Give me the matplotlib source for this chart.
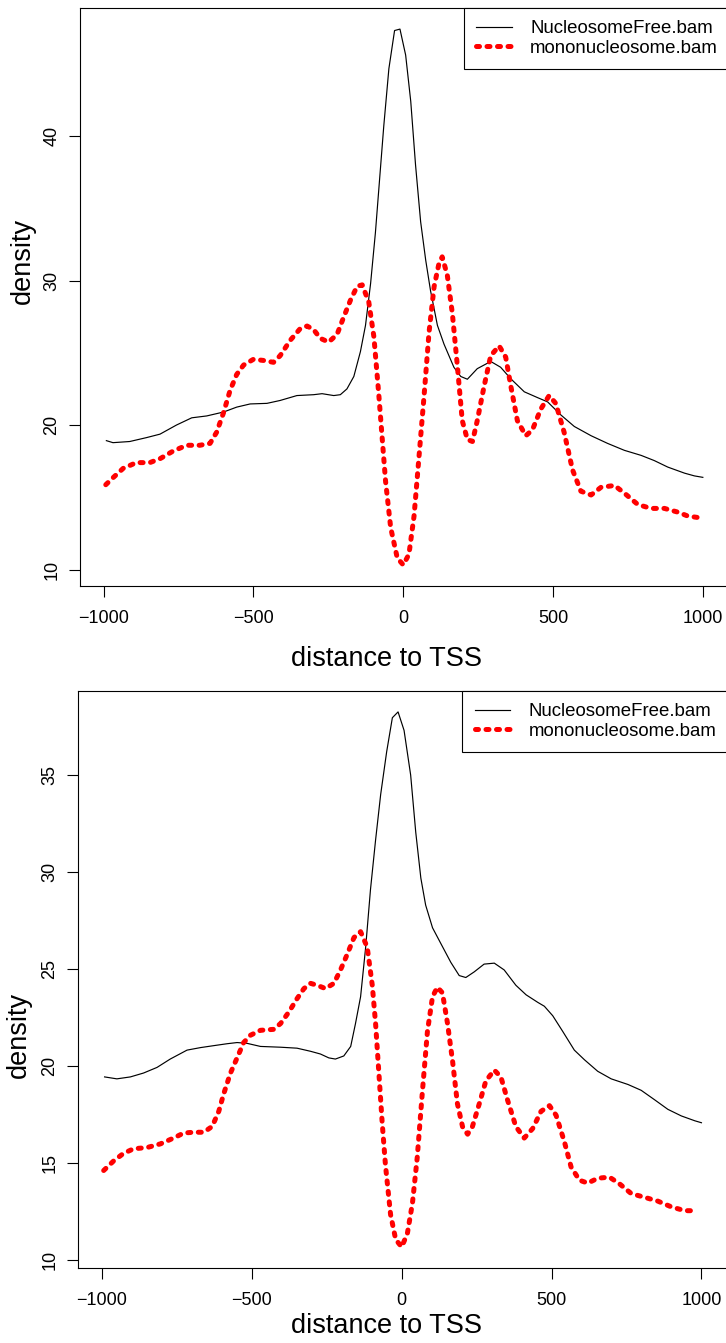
import matplotlib

matplotlib.use("Agg")
import matplotlib.pyplot as plt

# top panel: NucleosomeFree / mononucleosome densities around TSS
nf1_x = [-991, -969, -913, -857, -812, -757, -706, -656, -600, -556, -511, -455, -411, -355, -299,
         -271, -232, -210, -188, -165, -143, -126, -109, -93, -76, -65, -48, -29, -11, 8, 25, 41,
         58, 75, 91, 114, 136, 169, 192, 214, 247, 292, 325, 359, 404, 448, 482, 526, 571, 627,
         682, 738, 794, 838, 883, 939, 972, 1000]
nf1_y = [18.92, 18.78, 18.86, 19.13, 19.37, 20.0, 20.5, 20.63, 20.9, 21.24, 21.46, 21.5, 21.7,
         22.04, 22.1, 22.17, 22.04, 22.1, 22.5, 23.36, 25.08, 26.9, 29.8, 33.3, 37.8, 40.7, 44.66,
         47.3, 47.4, 45.6, 42.4, 38.0, 34.07, 31.4, 29.3, 26.9, 25.6, 24.0, 23.36, 23.17, 23.9,
         24.4, 24.0, 23.2, 22.3, 21.9, 21.6, 20.7, 19.9, 19.26, 18.73, 18.25, 17.9, 17.54, 17.09,
         16.67, 16.48, 16.38]
mono1_x = [-993, -969, -935, -891, -846, -812, -768, -723, -679, -645, -623, -600, -578, -556,
           -533, -500, -467, -433, -411, -377, -344, -321, -299, -277, -249, -221, -199, -176,
           -154, -137, -115, -98, -82, -70, -59, -42, -20, 0, 19, 36, 52, 69, 86, 103, 119, 130,
           147, 164, 181, 197, 214, 231, 247, 270, 292, 320, 342, 359, 381, 409, 431, 459, 487,
           509, 537, 565, 593, 627, 660, 705, 738, 783, 827, 872, 917, 950, 994]
mono1_y = [15.87, 16.35, 17.0, 17.4, 17.4, 17.67, 18.2, 18.6, 18.6, 18.73, 19.5, 20.85, 22.4,
           23.5, 24.15, 24.55, 24.47, 24.34, 24.8, 25.87, 26.67, 26.85, 26.6, 26.0, 25.74, 26.27,
           27.46, 28.65, 29.6, 29.7, 28.5, 26.1, 22.2, 19.0, 16.1, 12.9, 10.8, 10.32, 11.06, 13.7,
           17.67, 21.9, 26.4, 29.58, 31.16, 31.64, 30.37, 27.7, 24.0, 20.3, 19.0, 18.86, 20.3,
           22.7, 24.8, 25.48, 24.7, 22.7, 20.3, 19.26, 19.66, 21.1, 22.04, 21.5, 19.5, 16.9,
           15.42, 15.16, 15.69, 15.82, 15.29, 14.5, 14.23, 14.23, 13.97, 13.7, 13.57]

# bottom panel
nf2_x = [-991, -950, -905, -861, -816, -772, -716, -671, -627, -582, -549, -516, -471, -404,
         -349, -304, -271, -243, -221, -193, -170, -154, -137, -120, -104, -87, -70, -50, -31,
         -12, 8, 30, 47, 64, 80, 103, 130, 164, 192, 214, 242, 275, 309, 342, 381, 415, 454, 476,
         504, 537, 576, 610, 654, 699, 755, 799, 844, 888, 933, 978, 1000]
nf2_y = [19.45, 19.35, 19.45, 19.65, 19.94, 20.37, 20.83, 20.96, 21.06, 21.16, 21.22, 21.18,
         21.02, 20.98, 20.93, 20.77, 20.63, 20.43, 20.37, 20.53, 21.02, 22.2, 23.58, 26.14, 29.1,
         31.65, 34.0, 36.2, 37.95, 38.25, 37.3, 35.0, 32.05, 29.69, 28.3, 27.13, 26.34, 25.35,
         24.67, 24.57, 24.86, 25.26, 25.31, 24.96, 24.17, 23.68, 23.29, 23.09, 22.6, 21.8, 20.83,
         20.33, 19.74, 19.35, 19.06, 18.76, 18.27, 17.78, 17.44, 17.19, 17.09]
mono2_x = [-994, -961, -928, -894, -850, -805, -761, -727, -694, -660, -632, -610, -594, -571,
           -549, -527, -504, -471, -427, -404, -376, -349, -326, -304, -282, -254, -226, -204,
           -182, -159, -137, -115, -98, -87, -76, -65, -54, -37, -20, 0, 19, 36, 52, 69, 86, 103,
           119, 136, 153, 170, 186, 203, 220, 236, 259, 281, 309, 331, 353, 381, 409, 437, 465,
           493, 515, 543, 565, 593, 621, 654, 693, 727, 766, 810, 855, 899, 944, 988]
mono2_y = [14.63, 15.12, 15.51, 15.75, 15.81, 16.0, 16.3, 16.56, 16.6, 16.6, 16.9, 17.68, 18.56,
           19.65, 20.43, 21.22, 21.6, 21.85, 21.9, 22.2, 22.8, 23.48, 24.0, 24.27, 24.17, 24.0,
           24.27, 24.96, 25.75, 26.63, 26.93, 26.14, 24.17, 22.2, 19.65, 17.1, 14.9, 12.36, 11.08,
           10.69, 11.38, 12.95, 15.31, 18.66, 21.8, 23.58, 24.07, 23.78, 22.2, 20.24, 18.07,
           16.89, 16.5, 16.89, 18.07, 19.25, 19.8, 19.45, 18.27, 16.89, 16.3, 16.79, 17.68, 17.97,
           17.48, 16.1, 14.82, 14.13, 13.98, 14.23, 14.29, 13.94, 13.44, 13.25, 13.05, 12.76,
           12.56, 12.56]

x_ticks = [-1000, -500, 0, 500, 1000]
y_ticks1 = [10, 20, 30, 40]
y_ticks2 = [10, 15, 20, 25, 30, 35]
labels = ["NucleosomeFree.bam", "mononucleosome.bam"]

plt.rcParams.update({
    "font.family": ["Liberation Sans", "DejaVu Sans"],
    "axes.linewidth": 0.8,
})

fig = plt.figure(figsize=(7.26, 13.43), dpi=100)

panels = [
    # axes rect, data, yticks, ylabel coords, xlabel coords
    ([0.1098, 0.5634, 0.8913, 0.4309], nf1_x, nf1_y, mono1_x, mono1_y, y_ticks1,
     (-0.0876, 0.562), (0.4734, -0.1256)),
    ([0.1073, 0.05555, 0.8919, 0.4303], nf2_x, nf2_y, mono2_x, mono2_y, y_ticks2,
     (-0.0917, 0.404), (0.4768, -0.0997)),
]

for rect, nx, ny, mx, my, yt, ylc, xlc in panels:
    ax = fig.add_axes(rect)
    ax.plot(nx, ny, color="black", lw=0.85, label=labels[0])
    ax.plot(mx, my, color="#FF0000", lw=3.6, dashes=(0.6, 1.5),
            dash_capstyle="round", label=labels[1])
    ax.set_xlim(-1080, 1080)
    ax.margins(y=0.04)
    ax.set_xticks(x_ticks)
    ax.set_yticks(yt)
    ax.spines["right"].set_visible(False)
    ax.tick_params(direction="out", length=8, width=0.8, labelsize=13, pad=9)
    ax.tick_params(axis="y", pad=6)
    plt.setp(ax.get_yticklabels(), rotation=90, va="center")
    ax.set_xlabel("distance to TSS", fontsize=19.5)
    ax.set_ylabel("density", fontsize=19.5)
    ax.xaxis.set_label_coords(*xlc)
    ax.yaxis.set_label_coords(*ylc)
    ax.xaxis.label.set_va("center")
    ax.yaxis.label.set_va("center")
    leg = ax.legend(loc="upper right", bbox_to_anchor=(1.006, 1.0), borderaxespad=0,
                    fontsize=13.4, frameon=True, fancybox=False, framealpha=1,
                    edgecolor="black", borderpad=0.68, handlelength=1.9,
                    handletextpad=1.0, labelspacing=0.13)
    leg.get_frame().set_linewidth(0.8)

fig.savefig("out.png", dpi=100)
